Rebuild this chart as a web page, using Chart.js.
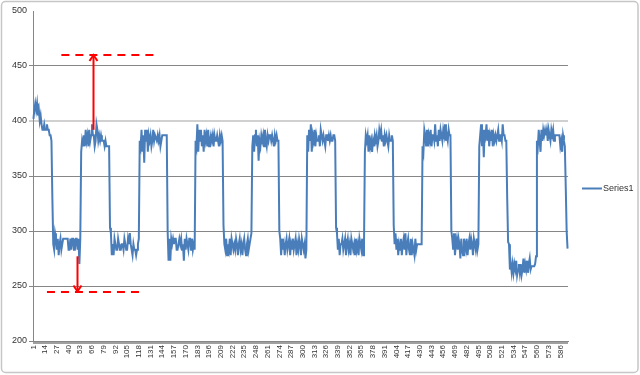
<!DOCTYPE html>
<html>
<head>
<meta charset="utf-8">
<script src="https://cdn.jsdelivr.net/npm/chart.js@4.4.1/dist/chart.umd.min.js"></script>
<style>
  html, body { margin: 0; padding: 0; background: #fff; }
  #wrap { width: 640px; height: 375px; position: relative; }
</style>
</head>
<body>
<div id="wrap"><canvas id="chart" width="640" height="375"></canvas></div>
<script>
// values, one row per plateau
const series1 = [
  402, 410, 416, 410, 416, 405, 410, 400, 405, 397, 392, 392, 397, 392, 392, 397, 392, 392, 387, 387, 382,
  330, 288, 283, 298, 293, 283, 293, 278, 288, 293, 283, 288, 293, 293, 293, 293, 293, 293, 283, 283, 293, 283, 293, 293, 283, 283, 293, 293, 283, 293, 270, 293,
  372, 382, 377, 387, 377, 392, 382, 387, 377, 392, 382, 387, 397, 387, 387, 377, 382, 397, 392, 382, 387, 382, 387, 382, 382, 382, 377, 382, 377, 377, 377, 377,
  303, 298, 278, 288, 278, 293, 288, 283, 283, 293, 288, 283, 283, 288, 288, 283, 293, 288, 283, 283, 293, 288, 298, 288, 283, 278, 288, 283, 283, 278, 283, 288, 293,
  382, 377, 392, 372, 387, 362, 392, 382, 392, 372, 387, 382, 387, 377, 382, 392, 382, 387, 387, 382, 387, 382, 387, 377, 382, 387, 387, 387, 387, 387, 387,
  300, 273, 293, 273, 293, 288, 293, 288, 293, 293, 283, 283, 288, 293, 288, 293, 283, 288, 273, 293, 283, 293, 288, 283, 293, 293, 283, 293, 283, 288, 283,
  382, 377, 397, 372, 392, 382, 392, 377, 387, 372, 392, 382, 387, 377, 392, 377, 382, 387, 382, 387, 377, 387, 382, 382, 387, 382, 377, 387, 382, 387, 382,
  305, 288, 283, 293, 278, 288, 283, 293, 278, 293, 288, 283, 288, 283, 293, 288, 278, 288, 293, 283, 288, 278, 288, 293, 283, 278, 288, 293, 283, 288, 293, 298,
  377, 387, 372, 387, 392, 377, 387, 364, 382, 377, 387, 382, 387, 377, 392, 382, 377, 387, 382, 387, 387, 382, 387, 382, 377, 387, 382, 387, 382, 382,
  300, 293, 278, 293, 283, 288, 278, 288, 293, 283, 288, 293, 278, 288, 283, 293, 283, 288, 293, 278, 288, 283, 293, 288, 278, 293, 288, 283, 288, 275, 283,
  387, 372, 392, 382, 397, 372, 387, 382, 392, 377, 387, 382, 382, 387, 377, 392, 387, 382, 387, 382, 377, 387, 387, 382, 387, 382, 387, 382, 382, 387, 387, 382,
  303, 298, 283, 293, 278, 288, 288, 293, 283, 288, 293, 278, 288, 293, 283, 288, 278, 293, 288, 283, 288, 278, 293, 283, 288, 278, 293, 288, 283, 293, 278, 288,
  372, 387, 382, 387, 372, 387, 377, 382, 372, 382, 377, 387, 382, 387, 377, 382, 392, 387, 392, 382, 387, 377, 387, 382, 387, 382, 377, 387, 382, 382, 387, 382,
  305, 288, 298, 283, 293, 278, 288, 283, 293, 278, 288, 293, 283, 298, 278, 288, 293, 283, 278, 293, 278, 288, 283, 278, 293, 283, 288, 288, 288, 288, 288, 288,
  377, 372, 392, 387, 377, 392, 377, 387, 382, 392, 377, 387, 387, 382, 397, 382, 387, 377, 392, 382, 392, 387, 382, 392, 387, 397, 382, 387, 382, 392, 387, 387,
  300, 293, 283, 298, 278, 288, 293, 283, 293, 288, 275, 293, 283, 278, 293, 288, 283, 293, 278, 288, 293, 283, 293, 288, 278, 293, 288, 283, 293, 283, 288,
  377, 387, 397, 377, 392, 367, 392, 387, 397, 382, 392, 377, 387, 382, 392, 377, 387, 382, 387, 382, 387, 392, 382, 387, 387, 382, 397, 387, 387, 382, 382,
  330, 290, 288, 265, 270, 262, 270, 262, 270, 265, 273, 260, 265, 270, 262, 270, 260, 265, 275, 262, 270, 265, 273, 262, 270, 275, 265, 268, 268, 268, 268, 270, 277,
  382, 377, 392, 382, 372, 392, 382, 392, 387, 392, 387, 392, 382, 392, 387, 382, 392, 387, 392, 382, 387, 387, 387, 387, 387, 387, 377, 382, 372, 387, 382, 377,
  340, 300, 284
];
const categories = series1.map((v, i) => String(i + 1));
const labelStep = 13;
const yTicks = [200, 250, 300, 350, 400, 450, 500];

// red guide marks, in data units (category index / value)
const guideLines = [
  { value: 460, from: 31, to: 137 },
  { value: 245, from: 15, to: 121 }
];
const guideArrows = [
  { at: 66, from: 392, to: 460 },
  { at: 48, from: 277, to: 245 }
];

const lineColor = '#4a7ebb';
const textColor = '#333';
const gridColor = '#868686';

const frame = {
  id: 'frame',
  beforeDraw(chart) {
    const ctx = chart.ctx;
    ctx.save();
    ctx.fillStyle = '#fff';
    ctx.fillRect(0, 0, chart.width, chart.height);
    ctx.restore();
  },
  afterDraw(chart) {
    const ctx = chart.ctx;
    ctx.save();
    ctx.strokeStyle = '#c6c6c6';
    ctx.lineWidth = 1.5;
    ctx.beginPath();
    ctx.roundRect(1.5, 1.5, chart.width - 3.5, chart.height - 4, 4);
    ctx.stroke();

    // legend on the right
    const ds = chart.data.datasets[0];
    const ly = Math.round(chart.height / 2) + 0.5;
    ctx.strokeStyle = ds.borderColor;
    ctx.lineWidth = ds.borderWidth;
    ctx.beginPath();
    ctx.moveTo(582, ly);
    ctx.lineTo(602, ly);
    ctx.stroke();
    ctx.fillStyle = textColor;
    ctx.font = '9px "Liberation Sans", Arial, sans-serif';
    ctx.textBaseline = 'middle';
    ctx.fillText(ds.label, 603, ly);
    ctx.restore();
  }
};

const guides = {
  id: 'guides',
  afterDatasetsDraw(chart) {
    const ctx = chart.ctx;
    const x = chart.scales.x, y = chart.scales.y;
    ctx.save();
    ctx.strokeStyle = '#ff0000';
    ctx.lineWidth = 2;
    ctx.setLineDash([8, 6]);
    guideLines.forEach(g => {
      const py = Math.round(y.getPixelForValue(g.value));
      ctx.beginPath();
      ctx.moveTo(x.getPixelForValue(g.from), py);
      ctx.lineTo(x.getPixelForValue(g.to), py);
      ctx.stroke();
    });
    ctx.setLineDash([]);
    guideArrows.forEach(a => {
      const px = Math.round(x.getPixelForValue(a.at)) + 0.5;
      const y0 = y.getPixelForValue(a.from);
      const y1 = y.getPixelForValue(a.to);
      const dir = y1 < y0 ? 1 : -1;
      ctx.beginPath();
      ctx.moveTo(px, y0);
      ctx.lineTo(px, y1);
      ctx.stroke();
      ctx.beginPath();
      ctx.moveTo(px - 4, y1 + dir * 6);
      ctx.lineTo(px, y1);
      ctx.lineTo(px + 4, y1 + dir * 6);
      ctx.stroke();
    });
    ctx.restore();
  }
};

new Chart(document.getElementById('chart'), {
  type: 'line',
  data: {
    labels: categories,
    datasets: [{
      label: 'Series1',
      data: series1,
      borderColor: lineColor,
      backgroundColor: lineColor,
      borderWidth: 2,
      pointRadius: 0,
      tension: 0,
      fill: false
    }]
  },
  options: {
    responsive: false,
    animation: false,
    devicePixelRatio: 1,
    layout: { padding: { left: 0, top: 11, right: 72, bottom: 0 } },
    plugins: {
      legend: { display: false },
      tooltip: { enabled: false }
    },
    scales: {
      x: {
        type: 'category',
        offset: true,
        afterFit(scale) { scale.height = 34; },
        border: { color: gridColor, width: 1 },
        grid: {
          drawOnChartArea: false,
          drawTicks: true,
          tickLength: 3,
          color: '#a0a0a0'
        },
        ticks: {
          autoSkip: false,
          minRotation: 90,
          maxRotation: 90,
          padding: 1,
          color: textColor,
          font: { family: '"Liberation Sans", Arial, sans-serif', size: 8 },
          callback(val, i) {
            return i % labelStep === 0 ? this.getLabelForValue(val) : '';
          }
        }
      },
      y: {
        min: yTicks[0],
        max: yTicks[yTicks.length - 1],
        afterFit(scale) { scale.width = 33; },
        afterBuildTicks(scale) { scale.ticks = yTicks.map(v => ({ value: v })); },
        border: { color: gridColor, width: 1 },
        grid: {
          tickLength: 4,
          color(c) {
            if (c.tick && c.tick.value === 500) return 'rgba(0,0,0,0)';
            if (c.tick && c.tick.value === 400) return '#d0d0d0';
            return gridColor;
          },
          lineWidth(c) { return c.tick && c.tick.value === 400 ? 2 : 1; }
        },
        ticks: {
          padding: 2,
          color: textColor,
          font: { family: '"Liberation Sans", Arial, sans-serif', size: 9 }
        }
      }
    }
  },
  plugins: [frame, guides]
});
</script>
</body>
</html>
